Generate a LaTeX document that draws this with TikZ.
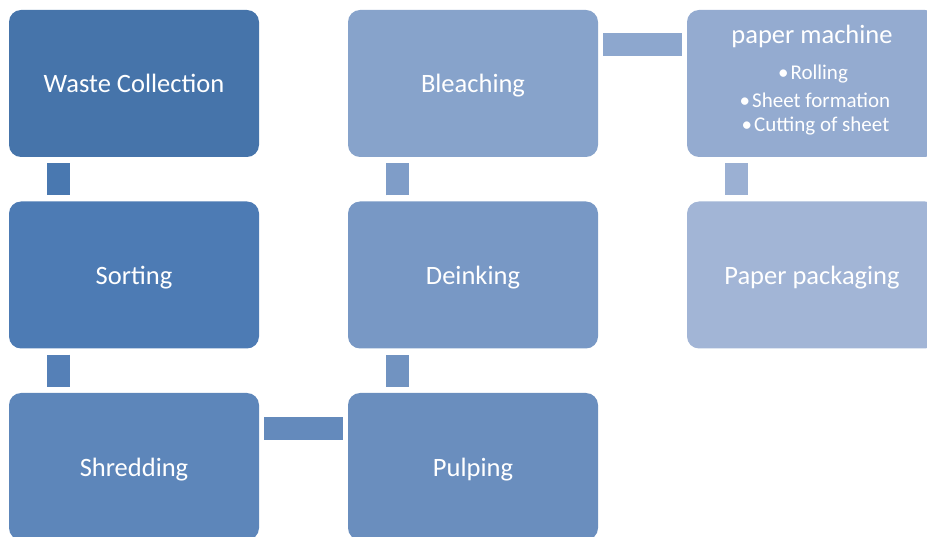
\documentclass[tikz,border=0pt]{standalone}
\usepackage{fontspec}
\setmainfont{Carlito}
\definecolor{cA}{RGB}{70,116,170}
\definecolor{cB}{RGB}{77,123,180}
\definecolor{cC}{RGB}{93,134,186}
\definecolor{cD}{RGB}{106,142,190}
\definecolor{cE}{RGB}{120,152,197}
\definecolor{cF}{RGB}{135,163,203}
\definecolor{cG}{RGB}{148,171,208}
\definecolor{cH}{RGB}{162,181,214}
\definecolor{kAB}{RGB}{73,120,176}
\definecolor{kBC}{RGB}{85,128,183}
\definecolor{kCD}{RGB}{100,138,188}
\definecolor{kDE}{RGB}{113,147,193}
\definecolor{kEF}{RGB}{127,157,200}
\definecolor{kFG}{RGB}{141,167,206}
\definecolor{kGH}{RGB}{155,176,211}
\begin{document}
\begin{tikzpicture}[x=1pt,y=-1pt,
  box/.style={rounded corners=12pt, minimum width=250pt, minimum height=147pt, inner sep=0pt, text=white, text height=21pt, text depth=2pt, font=\fontsize{26.5}{31}\selectfont},
  conn/.style={line width=23pt, line cap=butt},
  title/.style={text=white, inner sep=0pt, font=\fontsize{26.5}{31}\selectfont},
  bul/.style={text=white, inner sep=0pt, font=\fontsize{21}{25}\selectfont}]
\useasboundingbox (0,0) rectangle (927,537);
\clip (0,0) rectangle (927,537);
\node[box, fill=cA] (wc) at (134,83.5) {Waste Collection};
\node[box, fill=cB] (so) at (134,275) {Sorting};
\node[box, fill=cC] (sh) at (134,466.5) {Shredding};
\node[box, fill=cD] (pu) at (473,466.5) {Pulping};
\node[box, fill=cE] (de) at (473,275) {Deinking};
\node[box, fill=cF] (bl) at (473,83.5) {Bleaching};
\node[box, fill=cG] (pm) at (812,83.5) {};
\node[box, fill=cH] (pp) at (812,275) {Paper packaging};
\node[title] (pmt) at (812,36.5) {paper machine};
\node[bul] (b1) at (813,74) {•\hspace{2pt}Rolling};
\node[bul] (b2) at (815,100) {•\hspace{2pt}Sheet formation};
\node[bul] (b3) at (815.5,126.5) {•\hspace{2pt}Cutting of sheet};
% connectors
\draw[conn, kAB] ([shift={(-75.5,6)}]wc.south) -- ([shift={(-75.5,-6)}]so.north);
\draw[conn, kBC] ([shift={(-75.5,6)}]so.south) -- ([shift={(-75.5,-6)}]sh.north);
\draw[conn, kCD] ([shift={(5,-38)}]sh.east) -- ([shift={(-5,-38)}]pu.west);
\draw[conn, kDE] ([shift={(-75.5,-6)}]pu.north) -- ([shift={(-75.5,6)}]de.south);
\draw[conn, kEF] ([shift={(-75.5,-6)}]de.north) -- ([shift={(-75.5,6)}]bl.south);
\draw[conn, kFG] ([shift={(5,-38.5)}]bl.east) -- ([shift={(-5,-38.5)}]pm.west);
\draw[conn, kGH] ([shift={(-75.5,6)}]pm.south) -- ([shift={(-75.5,-6)}]pp.north);
\end{tikzpicture}
\end{document}
